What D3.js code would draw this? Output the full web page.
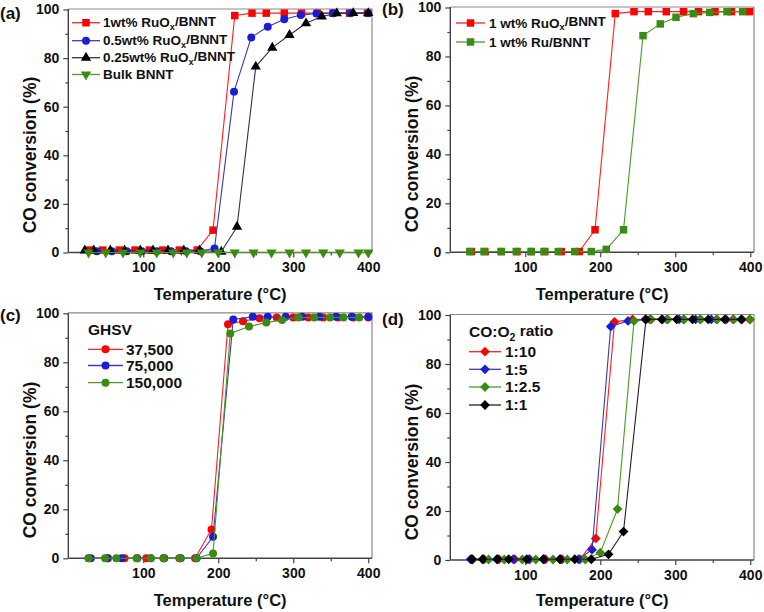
<!DOCTYPE html>
<html><head><meta charset="utf-8">
<script src="https://cdn.jsdelivr.net/npm/d3@7"></script>
<style>
html,body{margin:0;padding:0;background:#fff;}
svg{display:block;font-family:"Liberation Sans",Arial,sans-serif;font-weight:bold;}
</style></head>
<body><svg id="chart" width="764" height="612"></svg>
<script>
// ---------- DATA ----------
const xTicks = [100, 200, 300, 400];
const yTicks = [0, 20, 40, 60, 80, 100];

// Panel (a)
const a_x1 = [28, 46, 68, 89, 108, 126, 148, 172, 193, 222, 245, 264, 288, 311, 332, 353, 375, 399];
const a_y1 = [1, 1, 1, 1, 1, 1, 1, 1, 9.2, 97.5, 98.5, 98.5, 98.5, 98.5, 98.5, 98.5, 98.5, 98.5];
const a_x2 = [38, 58, 78, 98, 118, 137, 157, 176, 195, 221, 244, 266, 288, 310, 331, 353, 376, 400];
const a_y2 = [0.5, 0.5, 0.5, 0.5, 0.5, 0.5, 0.5, 0.5, 1.7, 66.2, 88.5, 92.9, 96, 97.7, 98.4, 98.5, 98.5, 98.5];
const a_x3 = [22, 34, 56, 75, 96, 113, 133, 154, 175, 204, 225, 250, 272, 295, 317, 338, 358, 380, 400];
const a_y3 = [0.8, 0.8, 0.8, 0.8, 0.8, 0.8, 0.8, 0.8, 0.8, 0.3, 10.6, 76.5, 84.3, 89.5, 94.3, 97.1, 98.4, 98.5, 98.5];
const a_x4 = [27, 50, 73, 96, 118, 140, 158, 178, 200, 222, 247, 271, 295, 317, 340, 362, 387, 400];
const a_y4 = [0, 0, 0, 0, 0, 0, 0, 0, 0, 0, 0, 0, 0, 0, 0, 0, 0, 0];

// Panel (b)
const b_x1 = [28, 46, 68, 89, 108, 126, 148, 172, 193, 220, 245, 264, 288, 311, 331, 353, 375, 399];
const b_y1 = [0.3, 0.3, 0.3, 0.3, 0.3, 0.3, 0.3, 0.3, 9.2, 97.5, 98.3, 98.3, 98.3, 98.3, 98.3, 98.3, 98.3, 98.3];
const b_x2 = [26, 45, 68, 88, 108, 125, 144, 166, 188, 208, 231, 257, 280, 301, 324, 346, 369, 390];
const b_y2 = [0.3, 0.3, 0.3, 0.3, 0.3, 0.3, 0.3, 0.3, 0.3, 1.2, 9.2, 88.5, 93.3, 96, 97.5, 98, 98.3, 98.3];

// Panel (c)
const c_x1 = [27, 53, 75, 104, 127, 148, 169, 191, 213, 233, 255, 278, 300, 320, 340, 360, 380, 400];
const c_y1 = [0, 0, 0, 0, 0, 0, 0, 11.8, 95.5, 96.8, 98, 98.3, 98.3, 98.3, 98.3, 98.3, 98.3, 98.3];
const c_x2 = [30, 52, 71, 92, 110, 128, 150, 171, 193, 220, 246, 266, 290, 312, 335, 357, 378, 400];
const c_y2 = [0, 0, 0, 0, 0, 0, 0, 0, 8.8, 97.5, 98.6, 98.6, 98.6, 98.6, 98.6, 98.6, 98.6, 98.6];
const c_x3 = [27, 49, 64, 91, 110, 127, 149, 171, 193, 216, 241, 264, 285, 307, 328, 349, 367, 388];
const c_y3 = [0, 0, 0, 0, 0, 0, 0, 0, 2.0, 91.8, 94.6, 96.2, 97.3, 98.3, 98.3, 98.3, 98.3, 98.3];

// Panel (d)
const d_x1 = [28, 45, 65, 86, 106, 127, 149, 173, 194, 219, 243, 266, 289, 311, 333, 355, 377, 399];
const d_y1 = [0.3, 0.3, 0.3, 0.3, 0.3, 0.3, 0.3, 0.3, 8.8, 97.2, 98.2, 98.2, 98.2, 98.2, 98.2, 98.2, 98.2, 98.2];
const d_x2 = [27, 44, 62, 84, 105, 125, 147, 171, 189, 214, 237, 260, 283, 305, 327, 348, 368, 389];
const d_y2 = [0.3, 0.3, 0.3, 0.3, 0.3, 0.3, 0.3, 0.3, 4.2, 95.3, 97.6, 98.2, 98.2, 98.2, 98.2, 98.2, 98.2, 98.2];
const d_x3 = [30, 51, 72, 96, 114, 137, 156, 180, 200, 223, 245, 268, 290, 312, 334, 356, 378, 400];
const d_y3 = [0.2, 0.2, 0.2, 0.2, 0.2, 0.2, 0.2, 0.2, 3.0, 20.8, 97.6, 98.2, 98.2, 98.2, 98.2, 98.2, 98.2, 98.2];
const d_x4 = [29, 43, 63, 78, 102, 124, 146, 166, 188, 211, 231, 261, 282, 302, 323, 344, 366, 388];
const d_y4 = [0.3, 0.3, 0.3, 0.3, 0.3, 0.3, 0.3, 0.3, 0.3, 2.3, 11.6, 98.2, 98.2, 98.2, 98.2, 98.2, 98.2, 98.2];

// ---------- STYLE / LAYOUT ----------
const RED = "#ff0000", BLUE = "#1c1cd2", GREEN = "#3b8a12", BLACK = "#000000";
const LBLUE = "#3a3ab4", LGREEN = "#4b9a22", LRED = "#ff2020";

const panels = [
  { label: "(a)", lx: 0, ly: 19, xr: [68.3, 372], yr: [252.5, 9.5], ytc: 155, xtb: 300,
    legend: { x0: 72, x1: 100, tx: 103, ys: [22.7, 40.7, 57.7, 74.5], fs: 13.5 },
    series: [
      { x: a_x1, y: a_y1, sym: "square", fill: RED, line: LRED, name: ["1wt%  RuO", "x", "/BNNT"] },
      { x: a_x2, y: a_y2, sym: "circle", fill: BLUE, line: LBLUE, name: ["0.5wt%  RuO", "x", "/BNNT"] },
      { x: a_x3, y: a_y3, sym: "triangle", fill: BLACK, line: "#333344", name: ["0.25wt%  RuO", "x", "/BNNT"] },
      { x: a_x4, y: a_y4, sym: "tridown", fill: GREEN, line: LGREEN, name: ["Bulk BNNT"] }
    ] },
  { label: "(b)", lx: 382, ly: 15, xr: [450.3, 754], yr: [252.3, 7.5], ytc: 154, xtb: 300,
    legend: { x0: 456, x1: 485, tx: 489, ys: [23, 42], fs: 13.5 },
    series: [
      { x: b_x1, y: b_y1, sym: "square", fill: RED, line: LRED, name: ["1 wt% RuO", "x", "/BNNT"] },
      { x: b_x2, y: b_y2, sym: "square", fill: GREEN, line: LGREEN, name: ["1 wt% Ru/BNNT"] }
    ] },
  { label: "(c)", lx: 0, ly: 321, xr: [68.3, 372], yr: [558.3, 313.3], ytc: 460, xtb: 606,
    legend: { title: ["GHSV"], tyy: 330, x0: 88, x1: 123, tx: 126, ys: [349.3, 365.5, 382.7], fs: 15.5 },
    series: [
      { x: c_x1, y: c_y1, sym: "circle", fill: RED, line: LRED, name: ["37,500"] },
      { x: c_x2, y: c_y2, sym: "circle", fill: BLUE, line: LBLUE, name: ["75,000"] },
      { x: c_x3, y: c_y3, sym: "circle", fill: GREEN, line: LGREEN, name: ["150,000"] }
    ] },
  { label: "(d)", lx: 382, ly: 325, xr: [450.3, 754], yr: [560, 315], ytc: 462, xtb: 606,
    legend: { title: ["CO:O", "2", " ratio"], tyy: 332, x0: 469, x1: 501, tx: 505, ys: [351.7, 369.3, 387, 405], fs: 15.5 },
    series: [
      { x: d_x1, y: d_y1, sym: "diamond", fill: RED, line: LRED, name: ["1:10"] },
      { x: d_x2, y: d_y2, sym: "diamond", fill: BLUE, line: LBLUE, name: ["1:5"] },
      { x: d_x3, y: d_y3, sym: "diamond", fill: GREEN, line: LGREEN, name: ["1:2.5"] },
      { x: d_x4, y: d_y4, sym: "diamond", fill: BLACK, line: "#222222", name: ["1:1"] }
    ] }
];

const svg = d3.select("#chart");

function symPath(kind) {
  if (kind === "square") return { d: d3.symbol(d3.symbolSquare, 56)(), rot: 0 };
  if (kind === "circle") return { d: d3.symbol(d3.symbolCircle, 50)(), rot: 0 };
  if (kind === "triangle") return { d: d3.symbol(d3.symbolTriangle, 46)(), rot: 0 };
  if (kind === "tridown") return { d: d3.symbol(d3.symbolTriangle, 46)(), rot: 180 };
  if (kind === "diamond") return { d: d3.symbol(d3.symbolSquare, 48)(), rot: 45 };
}

function addRichText(sel, parts) {
  parts.forEach((p, i) => {
    const t = sel.append("tspan").text(p);
    if (parts.length > 1 && i === 1) {
      t.attr("font-size", "0.68em").attr("dy", "0.3em");
    } else if (parts.length > 1 && i === 2) {
      t.attr("dy", "-0.3em");
    }
  });
}

panels.forEach(P => {
  const x = d3.scaleLinear().domain([0, 405]).range(P.xr);
  const y = d3.scaleLinear().domain([0, 100]).range(P.yr);
  const g = svg.append("g");

  // frame top/right
  g.append("path")
    .attr("d", `M${x(0)},${y(100) - 0.5}H${x(405)}V${y(0)}`)
    .attr("fill", "none").attr("stroke", "#8a8a8a").attr("stroke-width", 1.2);

  // axes
  const ax = d3.axisBottom(x).tickValues(xTicks).tickSize(5).tickPadding(5).tickSizeOuter(0);
  const axm = d3.axisBottom(x).tickValues([50, 150, 250, 350]).tickSize(3).tickFormat("").tickSizeOuter(0);
  const ay = d3.axisLeft(y).tickValues(yTicks).tickSize(5).tickPadding(4).tickSizeOuter(0);
  const aym = d3.axisLeft(y).tickValues([10, 30, 50, 70, 90]).tickSize(3).tickFormat("").tickSizeOuter(0);

  const gx = g.append("g").attr("transform", `translate(0,${y(0)})`).call(ax);
  g.append("g").attr("transform", `translate(0,${y(0)})`).call(axm).select(".domain").remove();
  const gy = g.append("g").attr("transform", `translate(${x(0)},0)`).call(ay);
  g.append("g").attr("transform", `translate(${x(0)},0)`).call(aym).select(".domain").remove();
  g.selectAll(".domain").attr("stroke", "#444").attr("stroke-width", 1.4);
  g.selectAll(".tick line").attr("stroke", "#444").attr("stroke-width", 1.2);
  g.selectAll(".tick text").attr("font-size", 14).attr("font-weight", "bold").attr("fill", "#111")
    .attr("font-family", "Liberation Sans, Arial, sans-serif");
  gx.select(".domain").attr("d", `M${x(0)},0H${x(405)}`);
  gy.select(".domain").attr("d", `M0,${y(0)}V${y(100) - 0.5}`);

  // titles
  g.append("text").attr("x", (P.xr[0] + P.xr[1]) / 2).attr("y", P.xtb)
    .attr("text-anchor", "middle").attr("font-size", 16.5).attr("fill", "#111")
    .text("Temperature (°C)");
  g.append("text").attr("transform", `translate(${P.xr[0] - 38},${P.ytc}) rotate(-90)`)
    .attr("text-anchor", "middle").attr("dy", "0.35em").attr("font-size", 17.5).attr("fill", "#111")
    .text("CO conversion (%)");
  g.append("text").attr("x", P.lx).attr("y", P.ly).attr("font-size", 17).attr("fill", "#111").text(P.label);

  // series
  const line = d3.line().x(d => x(d[0])).y(d => y(d[1]));
  P.series.forEach(S => {
    const pts = S.x.map((v, i) => [v, S.y[i]]);
    g.append("path").datum(pts).attr("d", line)
      .attr("fill", "none").attr("stroke", S.line).attr("stroke-width", 1.1);
    const sp = symPath(S.sym);
    g.selectAll(null).data(pts).enter().append("path")
      .attr("d", sp.d)
      .attr("transform", d => `translate(${x(d[0])},${y(d[1])}) rotate(${sp.rot})`)
      .attr("fill", S.fill);
  });

  // legend
  const L = P.legend;
  if (L.title) {
    const tt = g.append("text").attr("x", L.x0).attr("y", L.tyy).attr("dy", "0.35em")
      .attr("font-size", L.fs).attr("fill", "#111");
    addRichText(tt, L.title);
  }
  P.series.forEach((S, i) => {
    const ly = L.ys[i];
    g.append("line").attr("x1", L.x0).attr("x2", L.x1).attr("y1", ly).attr("y2", ly)
      .attr("stroke", S.line).attr("stroke-width", 1.3);
    const sp = symPath(S.sym);
    g.append("path").attr("d", sp.d)
      .attr("transform", `translate(${(L.x0 + L.x1) / 2},${ly}) rotate(${sp.rot})`)
      .attr("fill", S.fill);
    const t = g.append("text").attr("x", L.tx).attr("y", ly).attr("dy", "0.35em")
      .attr("font-size", L.fs).attr("fill", "#111");
    addRichText(t, S.name);
  });
});
</script>
</body></html>
